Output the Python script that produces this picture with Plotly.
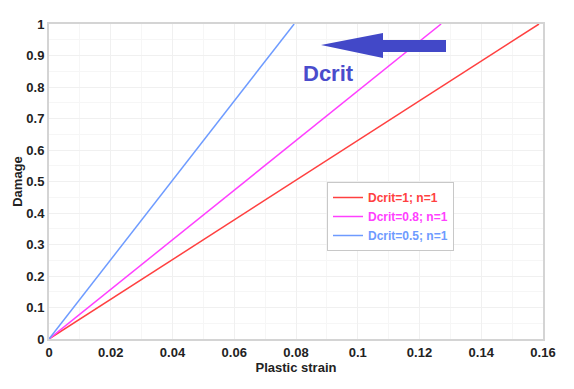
import plotly.graph_objects as go

names = ["Dcrit=1; n=1", "Dcrit=0.8; n=1", "Dcrit=0.5; n=1"]
colors = ["#ff4040", "#ff40ff", "#6e9bff"]
strain_end = [0.1587, 0.127, 0.0794]
damage = [0, 1]

fig = go.Figure()
for n, c, e in zip(names, colors, strain_end):
    fig.add_trace(go.Scatter(x=[0, e], y=damage, mode="lines",
                             name=f"<b><span style='color:{c}'>{n}</span></b>",
                             line=dict(color=c, width=1.5)))

# page body has an 8px default margin
OFF = 8
W, H = 574 - OFF, 389 - OFF
L, T = 49 - OFF, 24 - OFF
pw, ph = 494, 315
R, B = W - L - pw, H - T - ph
def dx(px): return (px - 49) / pw * 0.16
def dy(py): return (339 - py) / ph

arrow = [(321, 45), (383, 33), (383, 40), (446, 40), (446, 52), (383, 52), (383, 58)]
path = "M " + " L ".join(f"{dx(a)},{dy(b)}" for a, b in arrow) + " Z"
fig.add_shape(type="path", path=path, xref="x", yref="y",
              fillcolor="#4248c8", line=dict(width=0))
fig.add_annotation(x=dx(328), y=dy(73), xref="x", yref="y", text="<b>Dcrit</b>",
                   showarrow=False, font=dict(size=22, color="#4a4ccc",
                                              family="Liberation Sans, Arial"))

tf = dict(size=13, family="Liberation Sans, Arial", color="#222")
fig.update_layout(
    width=W, height=H, margin=dict(l=L, r=R, t=T, b=B, autoexpand=False),
    plot_bgcolor="white", paper_bgcolor="white",
    font=dict(family="Liberation Sans, Arial", size=12, color="#222"),
    showlegend=True,
    legend=dict(x=(327 - 49) / pw, y=(339 - 182) / ph, xanchor="left", yanchor="top",
                bgcolor="white", bordercolor="#c8c8c8", borderwidth=1,
                font=dict(size=12, family="Liberation Sans, Arial"),
                tracegroupgap=0, itemwidth=30),
    xaxis=dict(range=[0, 0.16], dtick=0.02, showgrid=True, gridcolor="#f0f0f0",
               minor=dict(dtick=0.01, showgrid=True, gridcolor="#f6f6f6"),
               showline=True, linecolor="#d4d4d4", linewidth=2, mirror=True,
               zeroline=False, tickformat="~g", automargin=False,
               tickprefix="<b>", ticksuffix="</b>", tickfont=tf,
               title=dict(text="<b>Plastic strain</b>", standoff=0,
                          font=dict(size=13, color="#222"))),
    yaxis=dict(range=[0, 1], dtick=0.1, showgrid=True, gridcolor="#f0f0f0",
               minor=dict(dtick=0.05, showgrid=True, gridcolor="#f6f6f6"),
               showline=True, linecolor="#d4d4d4", linewidth=2, mirror=True,
               zeroline=False, tickformat="~g", automargin=False,
               tickprefix="<b>", ticksuffix="</b>", tickfont=tf,
               title=dict(text="<b>Damage</b>", standoff=1,
                          font=dict(size=13, color="#222"))),
)

fig.write_html("out.html")
